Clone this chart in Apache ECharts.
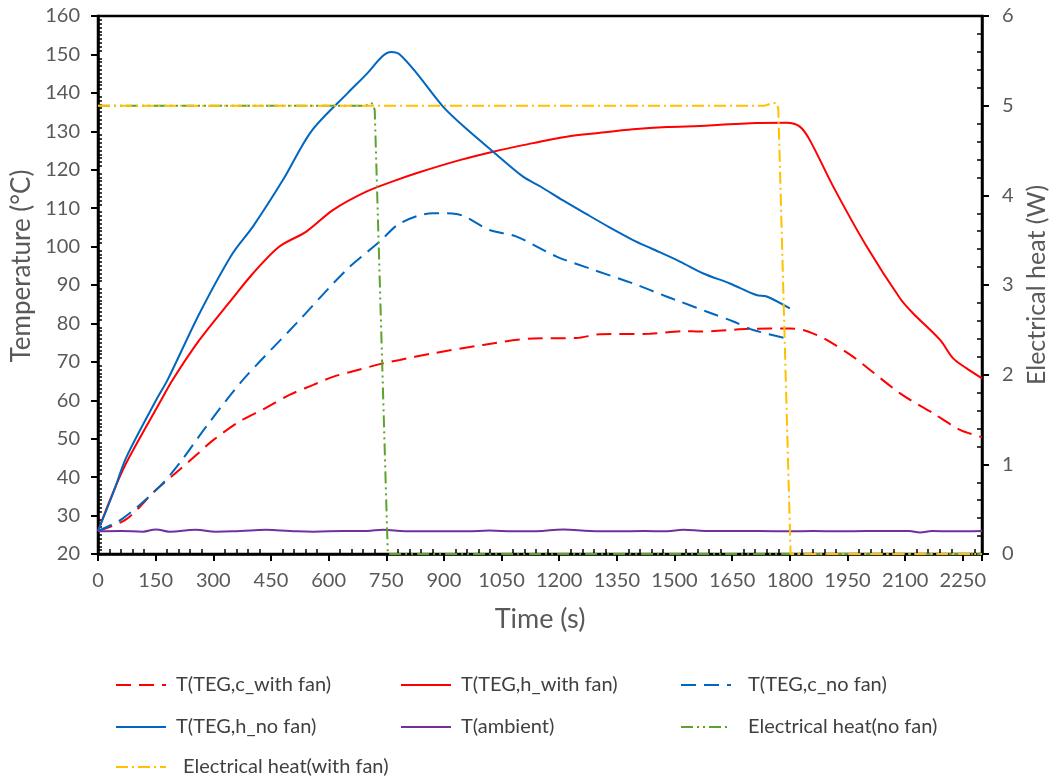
<!DOCTYPE html>
<html><head><meta charset="utf-8">
<script src="https://cdn.jsdelivr.net/npm/echarts@6/dist/echarts.min.js"></script>
<style>html,body{margin:0;padding:0;background:#fff}#c{width:1051px;height:778px}</style>
</head><body><div id="c"></div>
<script>
// ---- data ----
const tCWithFan = [0, 73, 151, 212, 264, 298, 368, 437, 498, 560, 611, 654, 741, 785, 871, 1002, 1132, 1245, 1306, 1436, 1523, 1566, 1696, 1800, 1835, 1870, 1896, 1965, 2087, 2173, 2243, 2300];
const vCWithFan = [26, 29, 36.7, 41.9, 46.5, 49.5, 54.5, 58, 61.4, 64, 66.1, 67.3, 69.6, 70.5, 72.2, 74.4, 76.1, 76.2, 77.2, 77.3, 78, 77.9, 78.6, 78.7, 78.3, 77, 75.7, 71.3, 61.8, 56.6, 52.3, 50.4];

const tHWithFan = [0, 35, 73, 164, 194, 264, 350, 403, 472, 542, 611, 698, 776, 828, 941, 1028, 1106, 1219, 1306, 1392, 1480, 1566, 1620, 1696, 1792, 1826, 1852, 1913, 2000, 2087, 2121, 2191, 2225, 2260, 2300];
const vHWithFan = [26, 35, 43.6, 60, 65.3, 75.7, 86.5, 93, 100, 103.9, 109.5, 114.3, 117.3, 119.1, 122.5, 124.7, 126.4, 128.6, 129.6, 130.5, 131.1, 131.4, 131.7, 132.1, 132.2, 131.2, 127.7, 115.6, 100, 86.5, 82.6, 75.7, 70.9, 68.3, 65.7];

const tCNoFan = [0, 64, 160, 212, 281, 377, 516, 646, 733, 785, 871, 932, 1019, 1089, 1193, 1279, 1392, 1479, 1514, 1583, 1653, 1705, 1800];
const vCNoFan = [26, 29.2, 37.5, 43.6, 53.1, 65.3, 80, 93.9, 101.3, 106, 108.7, 108.5, 104.3, 102.6, 97.4, 94.3, 90.4, 87, 85.7, 83.1, 80.5, 78.3, 75.9];

const tHNoFan = [0, 40, 73, 151, 181, 264, 350, 403, 481, 555, 650, 700, 740, 763, 785, 830, 897, 960, 1028, 1106, 1150, 1210, 1270, 1331, 1392, 1440, 1514, 1575, 1644, 1713, 1740, 1800];
const vHNoFan = [26, 36, 45, 60, 65.3, 82.6, 98.2, 105.2, 117.3, 130, 140, 145, 149.5, 150.6, 150, 145, 136.5, 130.5, 124.7, 118.2, 115.7, 112, 108.5, 105, 101.7, 99.5, 96.1, 93, 90.4, 87.4, 87, 83.9];

const tAmbient = [0, 60, 116, 151, 186, 254, 307, 370, 437, 500, 560, 640, 700, 741, 800, 900, 960, 1019, 1080, 1140, 1210, 1280, 1350, 1420, 1480, 1523, 1580, 1650, 1720, 1800, 1860, 1930, 2000, 2070, 2110, 2139, 2170, 2220, 2300];
const vAmbient = [25.9, 26.0, 25.8, 26.4, 25.8, 26.3, 25.8, 26.0, 26.3, 26.0, 25.8, 26.0, 26.0, 26.3, 25.9, 25.9, 25.9, 26.1, 25.9, 25.9, 26.4, 26.0, 25.9, 26.0, 25.9, 26.3, 26.0, 26.0, 26.0, 25.9, 26.0, 25.9, 26.0, 26.0, 26.0, 25.6, 26.0, 25.9, 26.0];

const tHeatNoFan = [0, 698, 708, 715, 720, 754, 2300];
const vHeatNoFan = [5, 5, 5.033, 5.02, 4.95, 0, 0];

const tHeatWithFan = [0, 1735, 1755, 1765, 1770, 1802, 2300];
const vHeatWithFan = [5, 5, 5.03, 5.03, 4.97, 0, 0];

const seriesNames = ['T(TEG,c_with fan)', 'T(TEG,h_with fan)', 'T(TEG,c_no fan)', 'T(TEG,h_no fan)', 'T(ambient)', 'Electrical heat(no fan)', 'Electrical heat(with fan)'];
const xTicks = {min: 0, max: 2300, step: 150};
const yTicks = {min: 20, max: 160, step: 10};
const y2Ticks = {min: 0, max: 6, step: 1};

// ---- chart ----
const zip = (t, v) => t.map((x, i) => [x, v[i]]);
const FONT = 'Lato, "Open Sans", sans-serif';
const GREY = '#595959';

const mk = (name, t, v, color, type, yIdx, smooth) => ({
  name, type: 'line', yAxisIndex: yIdx, data: zip(t, v), showSymbol: false, symbol: 'none',
  smooth: smooth, animation: false,
  lineStyle: {color, width: 2, type},
  itemStyle: {color}
});

const series = [
  mk(seriesNames[0], tCWithFan, vCWithFan, '#ff0000', [15, 8], 0, 0.3),
  mk(seriesNames[1], tHWithFan, vHWithFan, '#ff0000', 'solid', 0, 0.3),
  mk(seriesNames[2], tCNoFan, vCNoFan, '#0066c0', [15, 8], 0, 0.3),
  mk(seriesNames[3], tHNoFan, vHNoFan, '#0066c0', 'solid', 0, 0.3),
  mk(seriesNames[4], tAmbient, vAmbient, '#7030a0', 'solid', 0, 0.4),
  mk(seriesNames[5], tHeatNoFan, vHeatNoFan, '#5ea22e', [12, 4, 2, 4, 2, 4], 1, false),
  mk(seriesNames[6], tHeatWithFan, vHeatWithFan, '#ffc000', [12, 4, 2, 4], 1, false)
];

const legendPos = [
  {left: 115, top: 675, pad: 5},
  {left: 400, top: 675, pad: 5},
  {left: 680, top: 675, pad: 12},
  {left: 115, top: 717, pad: 5},
  {left: 400, top: 717, pad: 5},
  {left: 680, top: 717, pad: 12},
  {left: 115, top: 757, pad: 12}
];
const legends = seriesNames.map((n, i) => ({
  data: [n], left: legendPos[i].left, top: legendPos[i].top, padding: 0,
  itemWidth: 50, itemHeight: 14, selectedMode: false,
  itemStyle: {opacity: 0},
  textStyle: {fontFamily: FONT, fontSize: 20, color: '#404040', padding: [0, 0, 0, legendPos[i].pad]}
}));

const fmt = v => String(v);
const axisLabelStyle = {fontFamily: FONT, fontSize: 20, color: GREY, formatter: fmt};

const option = {
  backgroundColor: '#fff',
  animation: false,
  grid: {left: 98, right: 69, top: 16, bottom: 224, containLabel: false, outerBoundsMode: 'none',
         show: true, borderColor: '#000', borderWidth: 2.5, backgroundColor: 'transparent'},
  legend: legends,
  xAxis: {
    type: 'value', min: xTicks.min, max: xTicks.max, interval: xTicks.step,
    name: 'Time (s)', nameLocation: 'middle', nameGap: 52,
    nameTextStyle: {fontFamily: FONT, fontSize: 27, color: GREY},
    axisLine: {show: true, lineStyle: {color: '#000', width: 2.5}},
    axisTick: {show: true, length: 7, lineStyle: {color: '#000', width: 2}},
    minorTick: {show: true, splitNumber: 5, length: -5, lineStyle: {color: '#000', width: 1.5}},
    splitLine: {show: false},
    axisLabel: Object.assign({margin: 17, showMaxLabel: false}, axisLabelStyle)
  },
  yAxis: [
    {
      type: 'value', min: yTicks.min, max: yTicks.max, interval: yTicks.step, position: 'left',
      name: 'Temperature (°C)', nameLocation: 'middle', nameGap: 56,
      nameTextStyle: {fontFamily: FONT, fontSize: 26, color: GREY, padding: [0, 0, 0, 38]},
      axisLine: {show: true, lineStyle: {color: '#000', width: 2.5}},
      axisTick: {show: true, length: 7, lineStyle: {color: '#000', width: 2}},
      minorTick: {show: true, splitNumber: 10, length: -4, lineStyle: {color: '#000', width: 1.5}},
      splitLine: {show: false},
      axisLabel: Object.assign({margin: 18}, axisLabelStyle)
    },
    {
      type: 'value', min: y2Ticks.min, max: y2Ticks.max, interval: y2Ticks.step, position: 'right',
      name: 'Electrical heat (W)', nameLocation: 'middle', nameGap: 40,
      nameTextStyle: {fontFamily: FONT, fontSize: 25, color: GREY},
      axisLine: {show: true, lineStyle: {color: '#000', width: 2.5}},
      axisTick: {show: true, length: 7, lineStyle: {color: '#000', width: 2}},
      minorTick: {show: true, splitNumber: 5, length: -5, lineStyle: {color: '#000', width: 1.5}},
      splitLine: {show: false},
      axisLabel: Object.assign({margin: 20}, axisLabelStyle)
    }
  ],
  series
};
const chart = echarts.init(document.getElementById('c'), null, {renderer: 'canvas'});
chart.setOption(option);
</script></body></html>
